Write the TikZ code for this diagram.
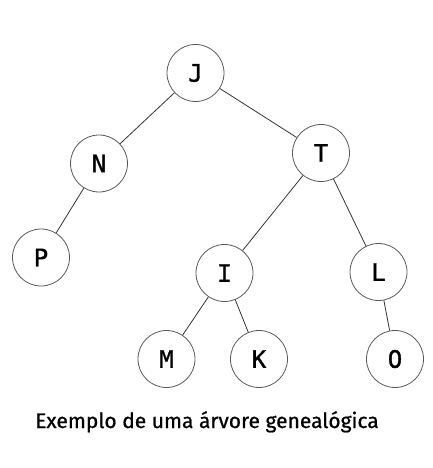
\documentclass[tikz,border=0pt]{standalone}
\usepackage{fontspec}
\setmainfont{Fira Sans}
\newfontfamily\capfont[FakeBold=0.8]{Fira Sans}
\newfontfamily\nodefont[FakeBold=1.4]{DejaVu Sans Mono}
\begin{document}
\begin{tikzpicture}[x=1pt,y=-1pt,
  tnode/.style={circle,draw=black!65,line width=0.8pt,minimum size=57pt,inner sep=0pt,font=\nodefont\fontsize{24}{26}\selectfont},
  edge/.style={draw=black!80,line width=0.8pt}]
\useasboundingbox (0,0) rectangle (432,468);
\node[tnode] (J) at (195.5,73) {J};
\node[tnode] (N) at (99,163.5) {N};
\node[tnode] (T) at (321,153) {T};
\node[tnode] (P) at (41,257.5) {P};
\node[tnode] (I) at (224.5,273) {I};
\node[tnode] (L) at (378.5,272) {L};
\node[tnode] (M) at (166.5,359) {M};
\node[tnode] (K) at (259,359) {K};
\node[tnode] (O) at (395,359) {O};
\draw[edge] (J) -- (N);
\draw[edge] (J) -- (T);
\draw[edge] (N) -- (P);
\draw[edge] (T) -- (I);
\draw[edge] (T) -- (L);
\draw[edge] (I) -- (M);
\draw[edge] (I) -- (K);
\draw[edge] (L) -- (O);
\node[anchor=base west,inner sep=0pt,font=\capfont\fontsize{21}{25}\selectfont] (cap) at (35,428) {Exemplo de uma árvore genealógica};
\end{tikzpicture}
\end{document}
